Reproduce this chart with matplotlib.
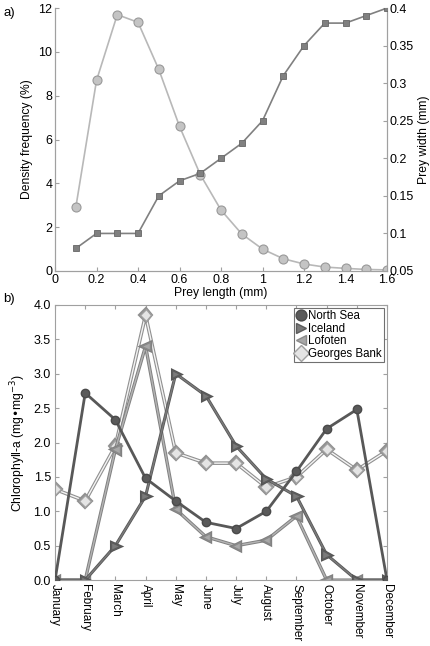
import numpy as np
import matplotlib
matplotlib.use("Agg")
from matplotlib import pyplot as plt
import matplotlib.patheffects as pe

plt.rcParams['font.family'] = ['Liberation Sans', 'DejaVu Sans']

# panel a data
prey_length = [0.1, 0.2, 0.3, 0.4, 0.5, 0.6, 0.7, 0.8, 0.9, 1.0, 1.1, 1.2, 1.3, 1.4, 1.5, 1.6]
density_freq = [2.9, 8.7, 11.7, 11.35, 9.2, 6.6, 4.4, 2.78, 1.69, 1.0, 0.56, 0.32, 0.18, 0.12, 0.07, 0.05]
prey_width = [0.08, 0.10, 0.10, 0.10, 0.15, 0.17, 0.18, 0.20, 0.22, 0.25, 0.31, 0.35, 0.38, 0.38, 0.39, 0.40]

# panel b data
months = ['January', 'February', 'March', 'April', 'May', 'June', 'July',
          'August', 'September', 'October', 'November', 'December']
north_sea = [0, 2.72, 2.33, 1.48, 1.15, 0.84, 0.75, 1.0, 1.58, 2.2, 2.48, 0]
iceland = [0, 0, 0.5, 1.22, 3.0, 2.68, 1.95, 1.47, 1.22, 0.37, 0, 0]
lofoten = [0, 0, 1.9, 3.4, 1.03, 0.63, 0.5, 0.58, 0.93, 0, 0, 0]
georges_bank = [1.32, 1.15, 1.95, 3.85, 1.85, 1.7, 1.7, 1.35, 1.5, 1.9, 1.6, 1.88]

spine_col = '#a0a0a0'
tick_fs = 9
label_fs = 8.7
fig = plt.figure(figsize=(4.30, 6.46), dpi=100)

# ---- panel a ----
ax = fig.add_axes([0.128, 0.5805, 0.772, 0.407])
ax.plot(prey_length, density_freq, '-o', color='#b8b8b8', lw=1.2, ms=6.5,
        mfc='#c4c4c4', mec='#999999', mew=0.8, zorder=3)
ax.set_xlim(0, 1.6)
ax.set_ylim(0, 12)
ax.set_xticks(np.arange(0, 1.61, 0.2))
ax.set_xticklabels(['0', '0.2', '0.4', '0.6', '0.8', '1', '1.2', '1.4', '1.6'])
ax.set_yticks(range(0, 13, 2))
ax.set_xlabel('Prey length (mm)', fontsize=label_fs, labelpad=1)
ax.set_ylabel('Density frequency (%)', fontsize=label_fs)
ax.spines['top'].set_visible(False)

ax2 = ax.twinx()
ax2.plot(prey_length, prey_width, '-s', color='#808080', lw=1.2, ms=5,
         mfc='#808080', mec='#666666', mew=0.6, zorder=4)
ax2.set_ylim(0.05, 0.4)
ax2.set_yticks([0.05, 0.1, 0.15, 0.2, 0.25, 0.3, 0.35, 0.4])
ax2.set_yticklabels(['0.05', '0.1', '0.15', '0.2', '0.25', '0.3', '0.35', '0.4'])
ax2.set_ylabel('Prey width (mm)', fontsize=label_fs, labelpad=3)
ax2.spines['top'].set_visible(False)

for a in (ax, ax2):
    for s in a.spines.values():
        s.set_color(spine_col)
    a.tick_params(labelsize=tick_fs, color=spine_col, length=3, direction='in', pad=2)

fig.text(0.008, 0.976, 'a)', fontsize=9.5)

# ---- panel b ----
bx = fig.add_axes([0.128, 0.102, 0.772, 0.426])
x = np.arange(len(months))
bx.plot(x, north_sea, '-o', color='#585858', lw=2.0, ms=6, mfc='#5a5a5a',
        mec='#4a4a4a', label='North Sea', zorder=5)
bx.plot(x, iceland, '->', color='#7a7a7a', lw=1.1, ms=6, mfc='#7a7a7a', mec='#5c5c5c',
        label='Iceland', zorder=4,
        path_effects=[pe.Stroke(linewidth=2.2, foreground='#555555'), pe.Normal()])
bx.plot(x, lofoten, '-<', color='#b4b4b4', lw=1.0, ms=6, mfc='#a8a8a8', mec='#8a8a8a',
        label='Lofoten', zorder=3,
        path_effects=[pe.Stroke(linewidth=2.4, foreground='#808080'), pe.Normal()])
bx.plot(x, georges_bank, '-D', color='#f4f4f4', lw=1.0, ms=6, mfc='#e4e4e4', mec='#a0a0a0',
        label='Georges Bank', zorder=2,
        path_effects=[pe.Stroke(linewidth=2.6, foreground='#909090'), pe.Normal()])
bx.set_xlim(0, 11)
bx.set_ylim(0, 4)
bx.set_xticks(x)
bx.set_xticklabels(months, rotation=270, va='top', ha='center', fontsize=8.5)
bx.set_yticks(np.arange(0, 4.01, 0.5))
bx.set_yticklabels([f'{v:.1f}' for v in np.arange(0, 4.01, 0.5)])
bx.set_ylabel('Chlorophyll-a (mg\u2022mg$^{-3}$)', fontsize=label_fs, labelpad=4)
for s in bx.spines.values():
    s.set_color(spine_col)
bx.tick_params(axis='y', labelsize=tick_fs)
bx.tick_params(color=spine_col, length=3, direction='in', pad=3, top=True, right=True)
leg = bx.legend(loc='upper right', fontsize=8.3, handlelength=0.9, handletextpad=0.2,
                borderpad=0.15, labelspacing=0.05, borderaxespad=0.3, fancybox=False,
                framealpha=1, markerscale=1.3)
leg.get_frame().set_edgecolor('#707070')
leg.get_frame().set_linewidth(0.8)
for h in leg.legend_handles:
    h.set_linestyle('none')
    h.set_path_effects([])

fig.text(0.008, 0.532, 'b)', fontsize=9.5)

fig.savefig('out.png', dpi=100)
